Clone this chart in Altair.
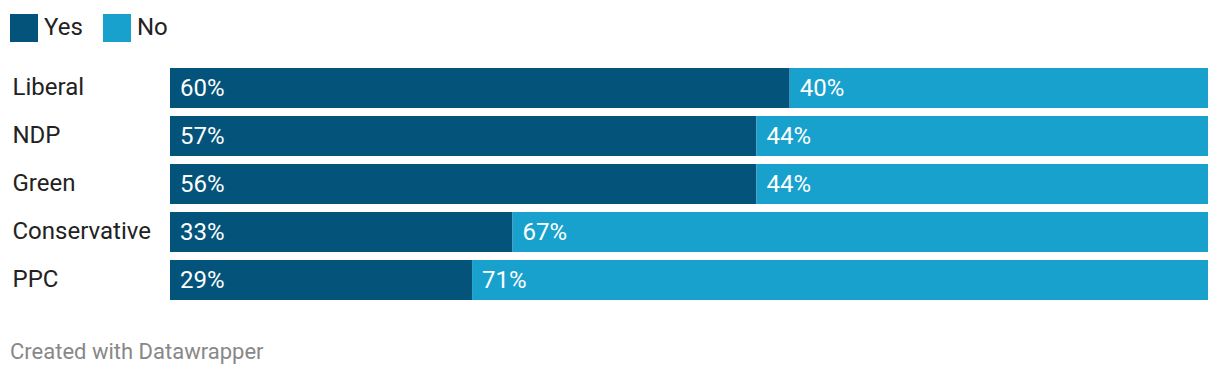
import altair as alt
import pandas as pd

parties = ["Liberal", "NDP", "Green", "Conservative", "PPC"]
yes_vals = [59.7, 56.5, 56.5, 33.0, 29.1]
no_vals = [40.3, 43.5, 43.5, 67.0, 70.9]
yes_labels = ["60%", "57%", "56%", "33%", "29%"]
no_labels = ["40%", "44%", "44%", "67%", "71%"]
series = ["Yes", "No"]
colors = ["#04537b", "#18a1cd"]

rows = []
for i, p in enumerate(parties):
    rows.append({"party": p, "answer": "Yes", "order": 0, "value": yes_vals[i], "label": yes_labels[i]})
    rows.append({"party": p, "answer": "No", "order": 1, "value": no_vals[i], "label": no_labels[i]})
df = pd.DataFrame(rows)

FONT = "Roboto"

base = alt.Chart(df).transform_stack(
    stack="value", groupby=["party"], as_=["x0", "x1"],
    sort=[alt.SortField("order", order="ascending")]
)

yenc = alt.Y("party:N", sort=parties, title=None,
             scale=alt.Scale(paddingInner=8/48, paddingOuter=0),
             axis=alt.Axis(domain=False, ticks=False, labelAlign="left",
                           labelPadding=158, labelFontSize=24, labelColor="#222222",
                           labelFont=FONT, labelBaseline="middle"))

bars = base.mark_bar().encode(
    x=alt.X("x0:Q", scale=alt.Scale(domain=[0, 100], nice=False), axis=None),
    x2="x1:Q",
    y=yenc,
    color=alt.Color("answer:N", scale=alt.Scale(domain=series, range=colors),
                    legend=alt.Legend(title=None, orient="none", legendX=-160, legendY=-54,
                                      direction="horizontal", symbolType="square",
                                      symbolSize=784, symbolStrokeWidth=0,
                                      symbolOpacity=1,
                                      labelFontSize=24, labelFont=FONT, labelColor="#222222",
                                      labelOffset=6, columnPadding=20)),
)

texts = base.mark_text(align="left", baseline="middle", dx=10, dy=1, fontSize=24,
                       font=FONT, color="white").encode(
    x=alt.X("x0:Q"),
    y=alt.Y("party:N", sort=parties),
    text="label:N",
)

chart = alt.layer(bars, texts).properties(
    width=1038, height=232,
    autosize=alt.AutoSizeParams(type="none"),
    padding={"left": 162, "top": 60, "right": 4, "bottom": 68},
    title=alt.Title("Created with Datawrapper", orient="bottom", anchor="start",
                    frame="group", dx=-160, offset=42, fontSize=22, color="#888888",
                    font=FONT, fontWeight="normal"),
).configure_view(stroke=None)

chart.save("out.html", embed_options={"renderer": "svg", "actions": False})
